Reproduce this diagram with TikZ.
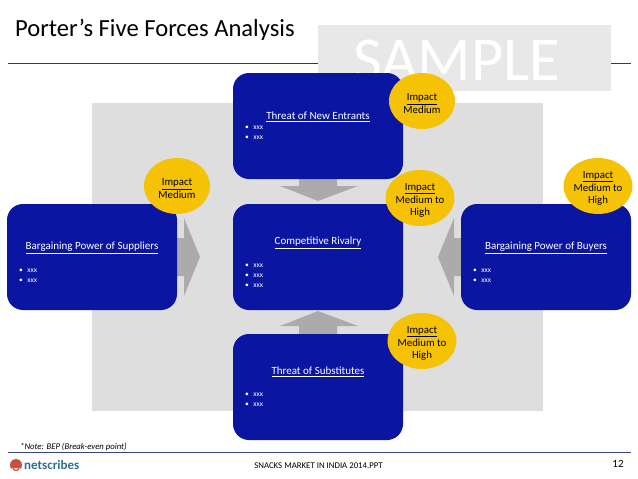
\documentclass[tikz,border=0pt]{standalone}
\usepackage{fontspec}
\setmainfont{Carlito}
\usepackage{tikz}
\definecolor{boxblue}{HTML}{0A16A2}
\definecolor{impactgold}{HTML}{F5C205}
\definecolor{arrowgrey}{HTML}{ABABAB}
\definecolor{backgrey}{HTML}{DEDEDE}
\definecolor{samplegrey}{HTML}{E8E8E8}
\definecolor{linedark}{HTML}{3A4580}
\definecolor{ruleblue}{HTML}{2030B0}
\definecolor{logoblue}{HTML}{2F6E92}
\definecolor{logored}{HTML}{C8503C}
\tikzset{
    forcebox/.style={fill=boxblue,rounded corners=16pt,minimum width=170pt,minimum height=106pt,inner sep=0pt},
    forcehead/.style={text=white,font=\fontsize{11}{12}\selectfont},
    bulletlist/.style={text=white,font=\fontsize{7.5}{10.2}\selectfont,align=left,anchor=north west,inner sep=0pt},
    impact/.style={ellipse,fill=impactgold,minimum width=66pt,minimum height=56pt,inner sep=0pt,align=center,font=\fontsize{10.8}{12.6}\selectfont},
    forcearrow/.style={fill=arrowgrey}
}
\usetikzlibrary{shapes.geometric}
\newcommand{\xxxline}{\textbullet\hspace{4.5pt}xxx}
\newcommand{\impacthead}{\rule{0pt}{12pt}\underline{Impact}}
\begin{document}
\begin{tikzpicture}[x=1pt,y=-1pt]
    % Fix the page size
    \useasboundingbox (0,0) rectangle (638,479);

    % Draw the title and the rules
    \node (title) at (15,29.5) [anchor=west,inner sep=0pt,font=\fontsize{24.6}{26}\selectfont] {Porter’s Five Forces Analysis};
    \coordinate (ruleL) at (8,63);
    \coordinate (ruleR) at (631,63);
    \draw [ruleblue,line width=1pt] (ruleL) -- (ruleR);
    \coordinate (footL) at (8,452);
    \coordinate (footR) at (631,452);
    \draw [linedark,line width=1pt] (footL) -- (footR);

    % Draw the sample stamp
    \fill [samplegrey] (318,25) rectangle (611,91);
    \node (sample) at (457,60) [text=white,inner sep=0pt,font=\fontsize{62.5}{63}\selectfont] {SAMPLE};

    % Draw the grey back panel
    \fill [backgrey] (92,103) rectangle (543,411);

    % Draw the block arrows
    \fill [forcearrow] (299,179) -- (337,179) -- (337,186) -- (358,186) -- (318,201) -- (280,186) -- (299,186) -- cycle;
    \fill [forcearrow] (299,334) -- (337,334) -- (337,326) -- (358,326) -- (318,311) -- (280,326) -- (299,326) -- cycle;
    \fill [forcearrow] (177,238) -- (184,238) -- (184,218) -- (200,257) -- (184,296) -- (184,276) -- (177,276) -- cycle;
    \fill [forcearrow] (461,238) -- (454,238) -- (454,218) -- (438,257) -- (454,296) -- (454,276) -- (461,276) -- cycle;

    % Draw the five boxes
    \node (entrants) at (318,126) [forcebox] {};
    \node (rivalry) at (318,257) [forcebox] {};
    \node (substitutes) at (318,387) [forcebox] {};
    \node (suppliers) at (92,257) [forcebox] {};
    \node (buyers) at (546,257) [forcebox] {};

    % Place the box headings
    \node (entrantshead) at (318,117) [forcehead] {\underline{Threat of New Entrants}};
    \node (rivalryhead) at (318,243) [forcehead] {\underline{Competitive Rivalry}};
    \node (substituteshead) at (318,372) [forcehead] {\underline{Threat of Substitutes}};
    \node (suppliershead) at (92,248) [forcehead] {\underline{Bargaining Power of Suppliers}};
    \node (buyershead) at (546,248) [forcehead] {\underline{Bargaining Power of Buyers}};

    % Place the bullets
    \node (entrantslist) at (245,125.5) [bulletlist] {\xxxline\\\xxxline};
    \node (rivalrylist) at (245,263.5) [bulletlist] {\xxxline\\\xxxline\\\xxxline};
    \node (substituteslist) at (245,392.5) [bulletlist] {\xxxline\\\xxxline};
    \node (supplierslist) at (19,269) [bulletlist] {\xxxline\\\xxxline};
    \node (buyerslist) at (473,269) [bulletlist] {\xxxline\\\xxxline};

    % Draw the impact ovals
    \node (impactsuppliers) at (177,186) [impact] {\impacthead\\Medium};
    \node (impactentrants) at (422,101) [impact] {\impacthead\\Medium};
    \node (impactrivalry) at (420,198) [impact] {\impacthead\\Medium to\\High};
    \node (impactbuyers) at (598,186) [impact] {\impacthead\\Medium to\\High};
    \node (impactsubstitutes) at (422,341) [impact] {\impacthead\\Medium to\\High};

    % Place the footer
    \node (note) at (20,447) [anchor=west,inner sep=0pt,font=\fontsize{8.7}{9}\selectfont\itshape] {*Note: BEP (Break-even point)};
    \node (deck) at (318.5,466) [inner sep=0pt,font=\fontsize{8.8}{9}\selectfont] {SNACKS MARKET IN INDIA 2014.PPT};
    \node (page) at (618,464) [inner sep=0pt,font=\fontsize{11}{12}\selectfont] {12};

    % Draw the logo
    \node (logomark) at (16,465) [circle,fill=logored,minimum size=12pt,inner sep=0pt] {};
    \draw [white,line width=0.8pt] (12,468) arc (180:0:4);
    \draw [white,line width=0.8pt] (14.5,468) arc (180:0:1.5);
    \node (logoname) at (24,464.5) [anchor=west,inner sep=0pt,text=logoblue,font=\fontsize{13}{14}\selectfont\bfseries] {netscribes};
\end{tikzpicture}
\end{document}
